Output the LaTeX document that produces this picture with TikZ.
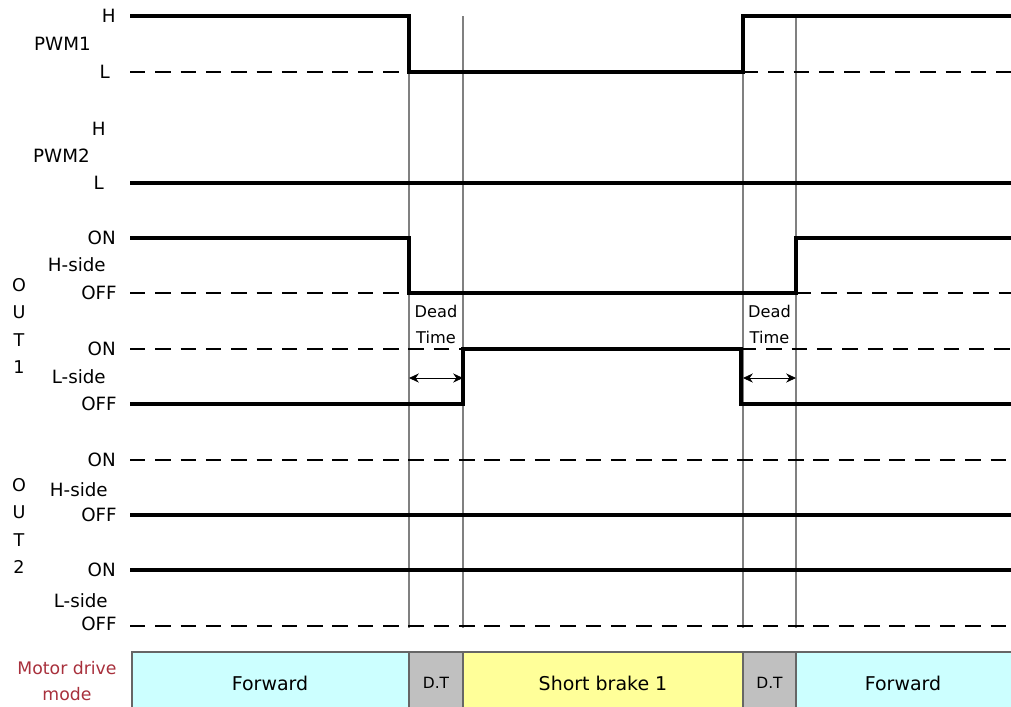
\documentclass[tikz,border=0pt]{standalone}
\usepackage{fontspec}
\setmainfont{DejaVu Sans}
\usetikzlibrary{arrows.meta,positioning}
\definecolor{fwdblue}{HTML}{CCFFFF}
\definecolor{dtgray}{HTML}{C0C0C0}
\definecolor{brkyellow}{HTML}{FFFF99}
\definecolor{modered}{HTML}{A8303C}
\tikzset{
	sig/.style={line width=2.4pt,line join=miter},
	lvl/.style={line width=1.5pt,dash pattern=on 11pt off 7pt},
	tick/.style={draw=black!50,line width=0.9pt},
	lab/.style={font=\fontsize{13}{15}\selectfont,inner sep=0pt},
	outlab/.style={font=\fontsize{12.5}{19.5}\selectfont,inner sep=0pt,align=center},
	dtlab/.style={font=\fontsize{11.5}{13}\selectfont,inner sep=0pt},
	bar/.style={draw=black!60,line width=1pt},
	bartxt/.style={font=\fontsize{13.5}{15}\selectfont,inner sep=0pt},
	dtarrow/.style={{Stealth[length=7pt,width=6.5pt]}-{Stealth[length=7pt,width=6.5pt]},line width=0.6pt}
}
\begin{document}
\begin{tikzpicture}[x=0.025cm,y=-0.025cm]
			\useasboundingbox (0,0) rectangle (1011,706);
			\coordinate (t1) at (409,16);
			\coordinate (t2) at (463,16);
			\coordinate (t3) at (743,16);
			\coordinate (t4) at (796,16);
			% mode bar
			\draw[bar,fill=fwdblue] (132,652) rectangle (409,712);
			\draw[bar,fill=dtgray] (409,652) rectangle (463,712);
			\draw[bar,fill=brkyellow] (463,652) rectangle (743,712);
			\draw[bar,fill=dtgray] (743,652) rectangle (796,712);
			\draw[bar,fill=fwdblue] (796,652) rectangle (1013,712);
			\node[bartxt] (fwd1) at (270,683) {Forward};
			\node[bartxt,font=\fontsize{11}{13}\selectfont] (dt1) at (436,683) {D.T};
			\node[bartxt] (brk) at (603,683) {Short brake 1};
			\node[bartxt,font=\fontsize{11}{13}\selectfont] (dt2) at (769.5,683) {D.T};
			\node[bartxt] (fwd2) at (903,683) {Forward};
			\node[lab,text=modered,align=center,font=\fontsize{12.3}{19}\selectfont] (mode) at (67,681) {Motor drive\\mode};
			% time marks
			\draw[tick] (t1) -- (409,628);
			\draw[tick] (t2) -- (463,628);
			\draw[tick] (t3) -- (743,628);
			\draw[tick] (t4) -- (796,628);
			% PWM1
			\node[lab,anchor=east] (pwm1h) at (116,16) {H};
			\node[lab,anchor=east] (pwm1) at (91,44) {PWM1};
			\node[lab,anchor=east] (pwm1l) at (110,72) {L};
			\draw[lvl] (130,72) -- (409,72);
			\draw[lvl] (743,72) -- (1011,72);
			\draw[sig] (130,16) -- (409,16) -- (409,72) -- (743,72) -- (743,16) -- (1011,16);
			% PWM2
			\node[lab,anchor=east] (pwm2h) at (106,129) {H};
			\node[lab,anchor=east] (pwm2) at (90,156) {PWM2};
			\node[lab,anchor=east] (pwm2l) at (104,183) {L};
			\draw[sig] (130,183) -- (1011,183);
			% OUT1
			\node[outlab] (out1) at (19,326) {O\\U\\T\\1};
			\node[lab,anchor=east] (o1hon) at (116,238) {ON};
			\node[lab,anchor=east] (o1h) at (106,265) {H-side};
			\node[lab,anchor=east] (o1hoff) at (117,293) {OFF};
			\node[lab,anchor=east] (o1lon) at (116,349) {ON};
			\node[lab,anchor=east] (o1l) at (106,377) {L-side};
			\node[lab,anchor=east] (o1loff) at (117,404) {OFF};
			\draw[lvl] (130,293) -- (409,293);
			\draw[lvl] (796,293) -- (1011,293);
			\draw[lvl] (130,349) -- (463,349);
			\draw[lvl] (741,349) -- (1011,349);
			\draw[sig] (130,238) -- (409,238) -- (409,293) -- (796,293) -- (796,238) -- (1011,238);
			\draw[sig] (130,404) -- (463,404) -- (463,349) -- (741,349) -- (741,404) -- (1011,404);
			\node[dtlab] (dead1) at (436,311) {Dead};
			\node[dtlab] (time1) at (436,337) {Time};
			\node[dtlab] (dead2) at (769.5,311) {Dead};
			\node[dtlab] (time2) at (769.5,337) {Time};
			\draw[dtarrow] (409,378) -- (463,378);
			\draw[dtarrow] (743,378) -- (796,378);
			% OUT2
			\node[outlab] (out2) at (19,526) {O\\U\\T\\2};
			\node[lab,anchor=east] (o2hon) at (116,460) {ON};
			\node[lab,anchor=east] (o2h) at (108,490) {H-side};
			\node[lab,anchor=east] (o2hoff) at (117,515) {OFF};
			\node[lab,anchor=east] (o2lon) at (116,570) {ON};
			\node[lab,anchor=east] (o2l) at (108,601) {L-side};
			\node[lab,anchor=east] (o2loff) at (117,624) {OFF};
			\draw[lvl] (130,460) -- (1011,460);
			\draw[sig] (130,515) -- (1011,515);
			\draw[sig] (130,570) -- (1011,570);
			\draw[lvl] (130,626) -- (1011,626);
		\end{tikzpicture}
\end{document}
